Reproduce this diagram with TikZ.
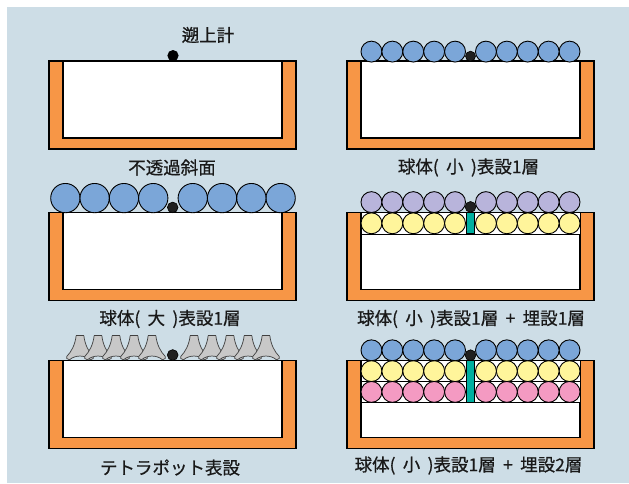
\documentclass[tikz,border=0pt]{standalone}
\usepackage{fontspec}
\newfontfamily\jpfont[FakeBold=0.7]{Noto Sans CJK JP}
\newcommand\gap{\hspace{0.42em}}
\definecolor{panelbg}{HTML}{CDDDE6}
\definecolor{wallorange}{HTML}{F79646}
\definecolor{ballblue}{HTML}{7BA6D8}
\definecolor{ballpurple}{HTML}{B8B4DB}
\definecolor{ballyellow}{HTML}{FFF59B}
\definecolor{ballpink}{HTML}{F49AC2}
\definecolor{pipeteal}{HTML}{00AFA0}
\definecolor{blockgray}{HTML}{C8C8C8}
\definecolor{gaugedark}{HTML}{202020}

\tikzset{
  tankwall/.style={fill=wallorange, draw=black, line width=1.2pt},
  tankin/.style={fill=white, draw=black, line width=1.2pt},
  tankline/.style={draw=black, line width=1.3pt},
  layerbox/.style={fill=white, draw=black, line width=1pt},
  blueball/.style={fill=ballblue, draw=black, line width=0.9pt},
  purpleball/.style={fill=ballpurple, draw=black, line width=0.9pt},
  yellowball/.style={fill=ballyellow, draw=black, line width=0.9pt},
  pinkball/.style={fill=ballpink, draw=black, line width=0.9pt},
  pipe/.style={fill=pipeteal, draw=black, line width=0.9pt},
  gauge/.style={fill=gaugedark, draw=black, line width=0.6pt},
  tetra/.style={fill=blockgray, draw=black!75, line width=0.7pt, line join=round},
  caption/.style={inner sep=0pt, font=\jpfont\fontsize{17.5}{20}\selectfont, text=black!90}
}

% orange U-shaped tank: #1 = left edge, #2 = top edge
\newcommand\tankbox[2]{%
  \filldraw[tankwall] (#1,#2) rectangle ++(247,88);
  \filldraw[tankin] (#1+14,#2) rectangle ++(219,77);
  \draw[tankline] (#1,#2) -- ++(247,0);
}
% row of ten small spheres in the right-hand tanks: #1 = centre y, #2 = style
\newcommand\smallrow[2]{%
  \foreach \i in {0,...,4}{
    \draw[#2] (371.45+20.9*\i,#1) circle[radius=10.45pt];
    \draw[#2] (569.55-20.9*\i,#1) circle[radius=10.45pt];
  }
}

\begin{document}
\begin{tikzpicture}[x=1pt,y=-1pt]
\useasboundingbox (0,0) rectangle (629,483);
\fill[white] (0,0) rectangle (629,483);
\fill[panelbg] (7,7) rectangle (629,483);

% ---------- impermeable slope ----------
\tankbox{49}{61}
\fill[black] (173,55.6) circle[radius=5.6pt];
\node[caption] (gaugelbl) at (208,35) {遡上計};
\node[caption] (cap1) at (172,167.5) {不透過斜面};

% ---------- small spheres, one surface layer ----------
\tankbox{347}{61}
\smallrow{51.6}{blueball}
\draw[gauge] (470.5,56.2) circle[radius=5pt];
\node[caption] (cap2) at (468.5,167.5) {球体({\gap}小{\gap})表設1層};

% ---------- large spheres, one surface layer ----------
\tankbox{49}{212.7}
\foreach \i in {0,...,3}{
  \draw[blueball] (65.35+29.3*\i,198.1) circle[radius=14.65pt];
  \draw[blueball] (280.65-29.3*\i,198.1) circle[radius=14.65pt];
}
\draw[gauge] (172.7,207.4) circle[radius=5.3pt];
\node[caption] (cap3) at (170,319) {球体({\gap}大{\gap})表設1層};

% ---------- small spheres, surface + one buried layer ----------
\tankbox{347}{212.5}
\filldraw[layerbox] (361,212.5) rectangle (580,234);
\smallrow{223.3}{yellowball}
\filldraw[pipe] (466.5,212.5) rectangle (474.5,233.5);
\smallrow{202.1}{purpleball}
\draw[gauge] (470.5,206.9) circle[radius=5.4pt];
\node[caption] (cap4) at (471,319) {球体({\gap}小{\gap})表設1層{\gap}+{\gap}埋設1層};

% ---------- tetrapod armour ----------
\tankbox{49}{360.4}
\foreach \cx in {80,98,116,134,152,194,212,230,248,266}{
  \begin{scope}[shift={(\cx,360)}]
    \filldraw[tetra] (-3.8,-24.5) -- (3.8,-24.5)
      .. controls (5,-15) and (8.5,-8.5) .. (13.2,-3.6)
      .. controls (14.2,-2.4) and (13,-0.3) .. (10.5,-0.2)
      .. controls (5,-5.2) and (-5,-5.2) .. (-10.5,-0.2)
      .. controls (-13,-0.3) and (-14.2,-2.4) .. (-13.2,-3.6)
      .. controls (-8.5,-8.5) and (-5,-15) .. cycle;
  \end{scope}
}
\draw[gauge] (172.7,355) circle[radius=5.4pt];
\node[caption] (cap5) at (170,467.5) {テトラポット表設};

% ---------- small spheres, surface + two buried layers ----------
\tankbox{347}{360.6}
\filldraw[layerbox] (361,360.6) rectangle (580,381.5);
\filldraw[layerbox] (361,381.5) rectangle (580,402.3);
\smallrow{371.1}{yellowball}
\smallrow{391.9}{pinkball}
\filldraw[pipe] (466.5,360.6) rectangle (474.5,402.3);
\smallrow{350.3}{blueball}
\draw[gauge] (470.5,355.2) circle[radius=5.4pt];
\node[caption] (cap6) at (468.5,465.5) {球体({\gap}小{\gap})表設1層{\gap}+{\gap}埋設2層};
\end{tikzpicture}
\end{document}
